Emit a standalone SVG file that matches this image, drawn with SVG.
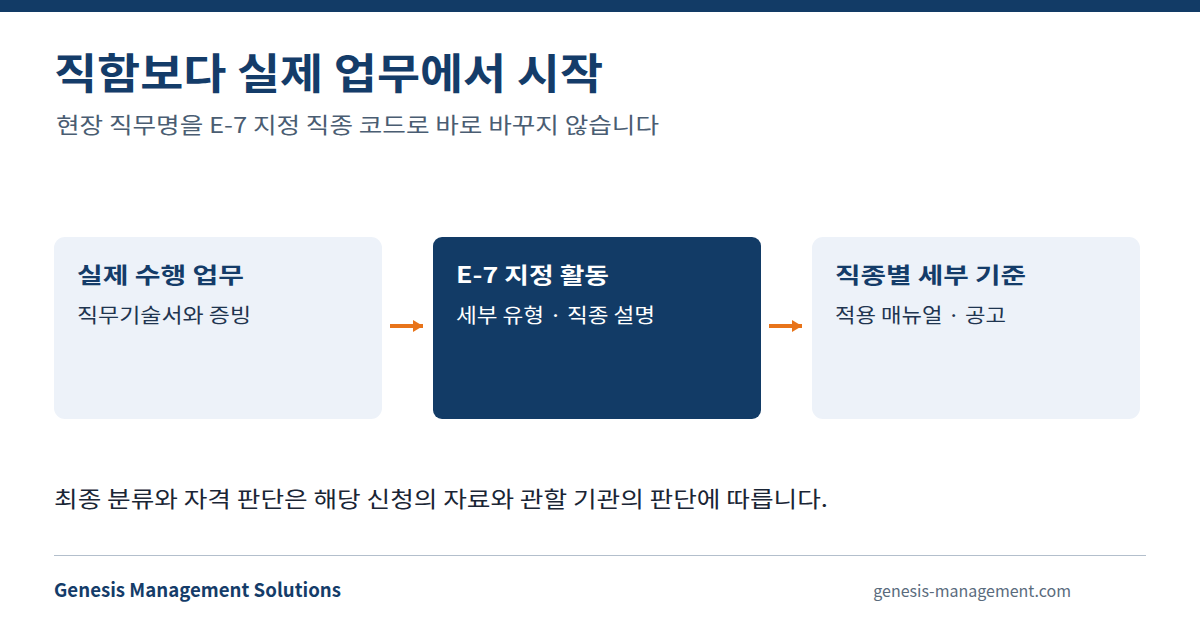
<svg xmlns="http://www.w3.org/2000/svg" width="1200" height="630" viewBox="0 0 1200 630">
<style>
.kr{font-family:"Noto Sans CJK KR","Noto Sans",sans-serif}
.t{font-weight:700;font-size:42px;fill:#143c69}
.st{font-size:22px;fill:#4a5d72}
.bt{font-weight:700;font-size:22px}
.bs{font-size:20px}
.light{fill:#edf2f9}
.dark{fill:#123b66}
</style>
<defs>
<marker id="ah" markerWidth="10" markerHeight="12" refX="10" refY="6" orient="auto" markerUnits="userSpaceOnUse">
<path d="M0,0 L10,6 L0,12 Z" fill="#e8741a"/>
</marker>
</defs>
<rect width="1200" height="630" fill="#ffffff"/>
<rect width="1200" height="12" fill="#123b66"/>
<text class="kr t" x="54" y="89" textLength="549" lengthAdjust="spacingAndGlyphs">직함보다 실제 업무에서 시작</text>
<text class="kr st" x="56" y="133" textLength="603" lengthAdjust="spacingAndGlyphs">현장 직무명을 E-7 지정 직종 코드로 바로 바꾸지 않습니다</text>
<g id="node1">
<rect class="light" x="54" y="237" width="328" height="182" rx="11"/>
<text class="kr bt" x="77" y="283" fill="#143c69" textLength="167" lengthAdjust="spacingAndGlyphs">실제 수행 업무</text>
<text class="kr bs" x="77" y="323" fill="#1f3550" textLength="174" lengthAdjust="spacingAndGlyphs">직무기술서와 증빙</text>
</g>
<g id="node2">
<rect class="dark" x="433" y="237" width="328" height="182" rx="9"/>
<text class="kr bt" x="456" y="283" fill="#ffffff" textLength="153" lengthAdjust="spacingAndGlyphs">E-7 지정 활동</text>
<text class="kr bs" x="456" y="323" fill="#ffffff" textLength="199" lengthAdjust="spacingAndGlyphs">세부 유형 · 직종 설명</text>
</g>
<g id="node3">
<rect class="light" x="812" y="237" width="328" height="182" rx="11"/>
<text class="kr bt" x="835" y="283" fill="#143c69" textLength="191" lengthAdjust="spacingAndGlyphs">직종별 세부 기준</text>
<text class="kr bs" x="835" y="323" fill="#1f3550" textLength="171" lengthAdjust="spacingAndGlyphs">적용 매뉴얼 · 공고</text>
</g>
<g id="connectors" stroke="#e8741a" stroke-width="4" fill="none">
<line x1="390" y1="326" x2="423" y2="326" marker-end="url(#ah)"/>
<line x1="769" y1="326" x2="802" y2="326" marker-end="url(#ah)"/>
</g>
<text class="kr" x="54" y="507" font-size="22" fill="#1a2535" textLength="774" lengthAdjust="spacingAndGlyphs">최종 분류와 자격 판단은 해당 신청의 자료와 관할 기관의 판단에 따릅니다.</text>
<line x1="54" y1="555.5" x2="1146" y2="555.5" stroke="#b3bfcc" stroke-width="1"/>
<text class="kr" x="54" y="597" font-size="19" font-weight="700" fill="#143c69" textLength="287" lengthAdjust="spacingAndGlyphs">Genesis Management Solutions</text>
<text class="kr" x="1071" y="597" font-size="16" fill="#5a6b7d" text-anchor="end">genesis-management.com</text>
</svg>
